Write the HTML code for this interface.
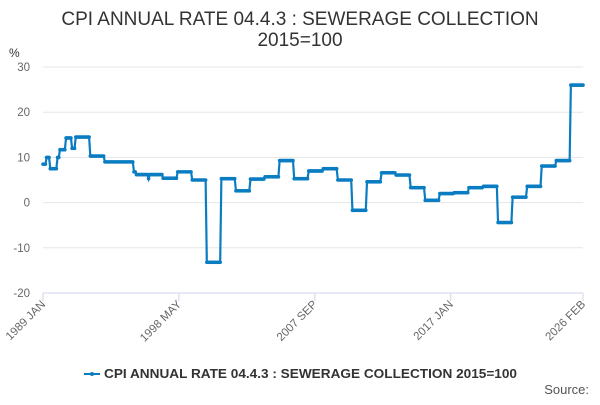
<!DOCTYPE html>
<html><head><meta charset="utf-8"><style>
body{margin:0;background:#fff;font-family:"Liberation Sans",sans-serif;}
svg text{font-family:"Liberation Sans",sans-serif;}
</style></head><body>
<svg width="600" height="400" viewBox="0 0 600 400" id="chart">
<text x="300" y="25" text-anchor="middle" font-size="19" fill="#333">CPI ANNUAL RATE 04.4.3 : SEWERAGE COLLECTION</text>
<text x="300" y="46" text-anchor="middle" font-size="19" fill="#333">2015=100</text>
<text x="9" y="57" font-size="12" fill="#333">%</text>
<g id="grid"></g><g id="xaxis"></g><g id="series"></g>
<g>
<line x1="84" y1="374" x2="100" y2="374" stroke="#0a7dc2" stroke-width="2"/>
<circle cx="92" cy="374" r="2" fill="#0a7dc2"/>
<text x="104" y="378" font-size="13" font-weight="bold" fill="#333" textLength="413" lengthAdjust="spacingAndGlyphs">CPI ANNUAL RATE 04.4.3 : SEWERAGE COLLECTION 2015=100</text>
</g>
<text x="589" y="394" text-anchor="end" font-size="13" fill="#555">Source:</text>
</svg>
<script>
const segStart=[0,3,6,12,14,19,24,27,39,51,63,75,77,87,99,111,123,135,147,159,171,183,195,207,219,231,243,255,267,279,291,303,315,327,339,351,363,375,387,399,411,423,435];
const segValues=[8.5,10,7.5,10,11.7,14.3,12,14.5,10.3,9,9,6.8,6.2,6.2,5.4,6.8,5,-13.2,5.3,2.6,5.2,5.7,9.3,5.3,7,7.5,5,-1.7,4.6,6.6,6.1,3.3,0.5,2,2.2,3.3,3.6,-4.4,1.2,3.6,8.1,9.3,26];
const dips=[[87,5.3]];
const nMonths=446;
const yTicks=[30,20,10,0,-10,-20];
const xTickMonths=[0,112,224,336,445];
const xTickLabels=["1989 JAN","1998 MAY","2007 SEP","2017 JAN","2026 FEB"];
const NS="http://www.w3.org/2000/svg";
const x0=43,x1=583,yTop=67,yBot=293;
const xs=m=>x0+(x1-x0)*m/(nMonths-1);
const ys=v=>yTop+(30-v)*(yBot-yTop)/50;
const grid=document.getElementById('grid');
yTicks.forEach(t=>{
 const l=document.createElementNS(NS,'line');
 
 
 l.setAttribute('x1',x0);l.setAttribute('x2',x1);l.setAttribute('y1',ys(t));l.setAttribute('y2',ys(t));
 l.setAttribute('stroke',t===-20?'#ccd6eb':'#e6e6e6');l.setAttribute('stroke-width','1');
 grid.appendChild(l);
 const tx=document.createElementNS(NS,'text');
 
 
 tx.setAttribute('x',30);tx.setAttribute('y',ys(t)+4);tx.setAttribute('text-anchor','end');
 tx.setAttribute('font-size','11.5');tx.setAttribute('fill','#666');tx.textContent=t;
 grid.appendChild(tx);
});
const xa=document.getElementById('xaxis');
xTickMonths.forEach((m,i)=>{
 const x=xs(m);
 const l=document.createElementNS(NS,'line');
 
 
 l.setAttribute('x1',x);l.setAttribute('x2',x);l.setAttribute('y1',yBot);l.setAttribute('y2',yBot+8);
 l.setAttribute('stroke','#ccd6eb');xa.appendChild(l);
 const tx=document.createElementNS(NS,'text');
 
 
 tx.setAttribute('x',x+3);tx.setAttribute('y',yBot+12);tx.setAttribute('text-anchor','end');
 tx.setAttribute('transform','rotate(-45 '+(x+3)+' '+(yBot+12)+')');
 tx.setAttribute('font-size','11.5');tx.setAttribute('fill','#666');tx.textContent=xTickLabels[i];
 xa.appendChild(tx);
});
const vals=[];
for(let m=0;m<nMonths;m++){let v=segValues[0];for(let s=0;s<segStart.length;s++){if(segStart[s]<=m)v=segValues[s];}vals.push(v);}
dips.forEach(d=>{vals[d[0]]=d[1];});
const g=document.getElementById('series');
const p=document.createElementNS(NS,'path');


p.setAttribute('d',vals.map((v,m)=>(m?'L':'M')+xs(m).toFixed(2)+' '+ys(v).toFixed(2)).join(''));
p.setAttribute('fill','none');p.setAttribute('stroke','#0a7dc2');p.setAttribute('stroke-width','2.2');
g.appendChild(p);
vals.forEach((v,m)=>{
 const c=document.createElementNS(NS,'circle');
 
 
 c.setAttribute('cx',xs(m));c.setAttribute('cy',ys(v));c.setAttribute('r','1.8');c.setAttribute('fill','#0a7dc2');
 g.appendChild(c);
});
</script>
</body></html>
